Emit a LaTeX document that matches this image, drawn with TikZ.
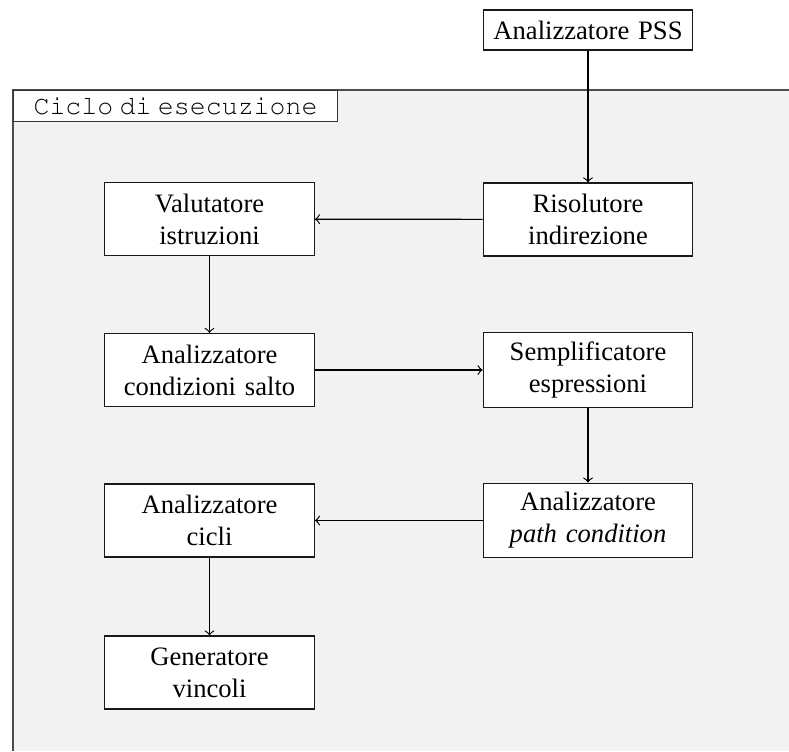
\documentclass[tikz,border=0pt]{standalone}
\usepackage[T1]{fontenc}
\usepackage{fontspec}
\setmainfont{Liberation Serif}
\setmonofont{Liberation Mono}
\newcommand{\courierfont}{\fontencoding{T1}\fontfamily{pcr}\fontseries{m}\fontshape{n}\fontsize{10}{12}\selectfont}
\begin{document}
\begin{tikzpicture}[x=0.376pt,y=-0.376pt,
  blk/.style={draw=black!90, fill=white, align=center, text width=72pt, inner xsep=3.4pt, inner ysep=3.5pt, minimum height=27.4pt, line width=0.45pt, font=\fontsize{10}{12}\selectfont},
  conn/.style={draw=black, line width=0.45pt, ->},
  frame/.style={draw=black!70, line width=0.45pt}]
\useasboundingbox (0,0) rectangle (789,751);
% execution cycle area
\fill[black!5] (13,90) rectangle (789,751);
\draw[frame] (13,751) -- (13,90) -- (789,90);
\node[draw=black!80, line width=0.45pt, fill=white, minimum width=121.8pt, minimum height=11.66pt, inner sep=0pt,
      font=\courierfont, anchor=north west] (title) at (13,90) {Ciclo\hspace{2.4pt}di\hspace{2.4pt}esecuzione};
% nodes
\node[blk, minimum height=15pt] (pss) at (588,30) {Analizzatore PSS};
\node[blk] (ris) at (588,219.5) {Risolutore\\indirezione};
\node[blk] (val) at (209.5,219) {Valutatore\\istruzioni};
\node[blk] (acs) at (209.5,370) {Analizzatore\\condizioni salto};
\node[blk] (sem) at (588,370) {Semplificatore\\espressioni};
\node[blk] (apc) at (588,520.5) {Analizzatore\\\textit{path condition}};
\node[blk] (aci) at (209.5,520.5) {Analizzatore\\cicli};
\node[blk] (gen) at (209.5,672.5) {Generatore\\vincoli};
% connectors
\draw[conn] (pss) -- (ris);
\draw[conn] (ris) -- (val);
\draw[conn] (val) -- (acs);
\draw[conn] (acs) -- (acs -| sem.west);
\draw[conn] (sem) -- (apc);
\draw[conn] (apc) -- (apc -| aci.east);
\draw[conn] (aci) -- (gen);
\end{tikzpicture}
\end{document}
